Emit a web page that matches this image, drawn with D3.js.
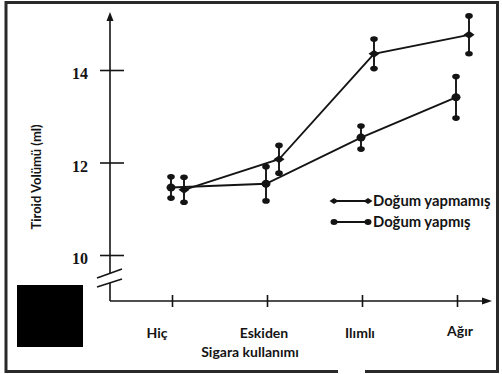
<!DOCTYPE html>
<html>
<head>
<meta charset="utf-8">
<script src="https://cdn.jsdelivr.net/npm/d3@7"></script>
<style>
  body { margin: 0; background: #fff; }
  svg { display: block; }
  .ytick { font-family: "Liberation Serif", "Times New Roman", serif; font-weight: bold; font-size: 16px; }
</style>
</head>
<body>
<div class="canvas"></div>
<script>
// data
const categories = ['Hiç', 'Eskiden', 'Ilımlı', 'Ağır'];
const yapmamis = [11.41, 12.07, 14.35, 14.76];      // Doğum yapmamış
const yapmamisErr = [0.27, 0.30, 0.32, 0.41];
const yapmis = [11.46, 11.54, 12.54, 13.41];        // Doğum yapmış
const yapmisErr = [0.23, 0.37, 0.25, 0.45];
const yTicks = [10, 12, 14];
const seriesNames = ['Doğum yapmamış', 'Doğum yapmış'];

const W = 502, H = 374;
const ink = '#141414';
const sans = 'Lato, "Open Sans", sans-serif';

const svg = d3.select('.canvas')
    .append('svg')
    .attr('width', W)
    .attr('height', H);

// outer frame (with the small gap in the bottom edge)
svg.append('path')
    .attr('d', 'M338,371.5 L6,371.5 L6,2.5 L497.5,2.5 L497.5,371.5 L365,371.5')
    .attr('fill', 'none')
    .attr('stroke', '#2a2a2a')
    .attr('stroke-width', 3);

// black box bottom-left
svg.append('rect')
    .attr('x', 17).attr('y', 285)
    .attr('width', 66).attr('height', 62)
    .attr('fill', '#000');

const x = d3.scalePoint()
    .domain(categories)
    .range([172, 457]);

const y = d3.scaleLinear()
    .domain([10, 14])
    .range([255, 70]);

const axisX = 110, axisY = 301;

// y axis, ticks cross the line
const yAxis = svg.append('g')
    .attr('transform', `translate(${axisX},0)`)
    .call(d3.axisLeft(y).tickValues(yTicks).tickFormat(d3.format('d')).tickSize(10).tickPadding(12));
yAxis.attr('font-family', null).attr('font-size', null);
yAxis.select('.domain').remove();
yAxis.selectAll('.tick line')
    .attr('x1', 14)
    .attr('stroke', ink)
    .attr('stroke-width', 1.6);
yAxis.selectAll('.tick text')
    .attr('class', 'ytick')
    .attr('dy', '0.85em')
    .attr('y', -5)
    .attr('fill', ink);

// vertical axis line with break
svg.append('line')
    .attr('x1', axisX).attr('x2', axisX)
    .attr('y1', 19).attr('y2', 273)
    .attr('stroke', ink).attr('stroke-width', 1.6);
svg.append('line')
    .attr('x1', axisX).attr('x2', axisX)
    .attr('y1', 283).attr('y2', axisY)
    .attr('stroke', ink).attr('stroke-width', 1.6);
svg.append('path')
    .attr('d', `M${axisX},12 L${axisX + 3.5},21 L${axisX - 3.5},21 Z`)
    .attr('fill', ink);
[[278, 269], [287, 279]].forEach(([a, b]) => {
    svg.append('line')
        .attr('x1', 97).attr('y1', a)
        .attr('x2', 122).attr('y2', b)
        .attr('stroke', ink).attr('stroke-width', 1.6);
});

// x axis
const xAxis = svg.append('g')
    .attr('transform', `translate(0,${axisY})`)
    .call(d3.axisBottom(x).tickSize(6).tickFormat(''));
xAxis.select('.domain').remove();
xAxis.selectAll('.tick line')
    .attr('y1', -6)
    .attr('stroke', ink)
    .attr('stroke-width', 1.6);
svg.append('line')
    .attr('x1', axisX).attr('x2', 484)
    .attr('y1', axisY).attr('y2', axisY)
    .attr('stroke', ink).attr('stroke-width', 1.6);
svg.append('path')
    .attr('d', `M492,${axisY} L482,${axisY - 3.5} L482,${axisY + 3.5} Z`)
    .attr('fill', ink);

// category labels (slightly off the ticks, as in the original)
const labelShift = [-15, -3, -2, 3];
const labelY = [338, 338, 338, 336];
svg.selectAll('.cat')
    .data(categories)
    .enter()
    .append('text')
        .attr('class', 'cat')
        .attr('x', (d, i) => x(d) + labelShift[i])
        .attr('y', (d, i) => labelY[i])
        .attr('text-anchor', 'middle')
        .attr('fill', ink)
        .style('font-family', sans)
        .style('font-weight', 'bold')
        .style('font-size', '14px')
        .text(d => d);

svg.append('text')
    .attr('x', 250).attr('y', 357)
    .attr('text-anchor', 'middle')
    .attr('fill', ink)
    .style('font-family', sans)
    .style('font-weight', 'bold')
    .style('font-size', '14px')
    .text('Sigara kullanımı');

svg.append('text')
    .attr('transform', 'translate(41,177) rotate(-90)')
    .attr('text-anchor', 'middle')
    .attr('fill', ink)
    .style('font-family', sans)
    .style('font-weight', 'bold')
    .style('font-size', '13px')
    .text('Tiroid Volümü (ml)');

// series
const series = [
    { name: seriesNames[0], vals: yapmamis, err: yapmamisErr, dx: 12, shape: 'diamond' },
    { name: seriesNames[1], vals: yapmis, err: yapmisErr, dx: -1, shape: 'circle' }
];

const line = d3.line()
    .x(d => d.x)
    .y(d => y(d.v));

const drawMarker = (g, cx, cy, shape, r) => {
    if (shape === 'diamond') {
        g.append('path')
            .attr('d', `M${cx - r - 1},${cy} L${cx},${cy - r + 0.5} L${cx + r + 1},${cy} L${cx},${cy + r - 0.5} Z`)
            .attr('fill', ink);
    } else {
        g.append('ellipse')
            .attr('cx', cx).attr('cy', cy)
            .attr('rx', r).attr('ry', r - 0.5)
            .attr('fill', ink);
    }
};

series.forEach(s => {
    const pts = categories.map((c, i) => ({ x: x(c) + s.dx, v: s.vals[i], e: s.err[i] }));
    const g = svg.append('g');

    g.append('path')
        .datum(pts)
        .attr('d', line)
        .attr('fill', 'none')
        .attr('stroke', ink)
        .attr('stroke-width', 1.9);

    pts.forEach(p => {
        g.append('line')
            .attr('x1', p.x).attr('x2', p.x)
            .attr('y1', y(p.v + p.e)).attr('y2', y(p.v - p.e))
            .attr('stroke', ink).attr('stroke-width', 1.9);
        [p.v + p.e, p.v - p.e].forEach(v => {
            g.append('ellipse')
                .attr('cx', p.x).attr('cy', y(v))
                .attr('rx', 3.8).attr('ry', 2.8)
                .attr('fill', ink);
        });
        drawMarker(g, p.x, y(p.v), s.shape, 4.5);
    });
});

// legend
const legend = svg.append('g');
series.forEach((s, i) => {
    const ly = 201 + i * 21;
    legend.append('line')
        .attr('x1', 333).attr('x2', 369)
        .attr('y1', ly).attr('y2', ly)
        .attr('stroke', ink).attr('stroke-width', 1.8);
    drawMarker(legend, 334, ly, s.shape, 3.5);
    drawMarker(legend, 368, ly, s.shape, 3.5);
    legend.append('text')
        .attr('x', 373).attr('y', ly + 5)
        .attr('fill', ink)
        .style('font-family', sans)
        .style('font-weight', 'bold')
        .style('font-size', '14.8px')
        .text(s.name);
});
</script>
</body>
</html>
